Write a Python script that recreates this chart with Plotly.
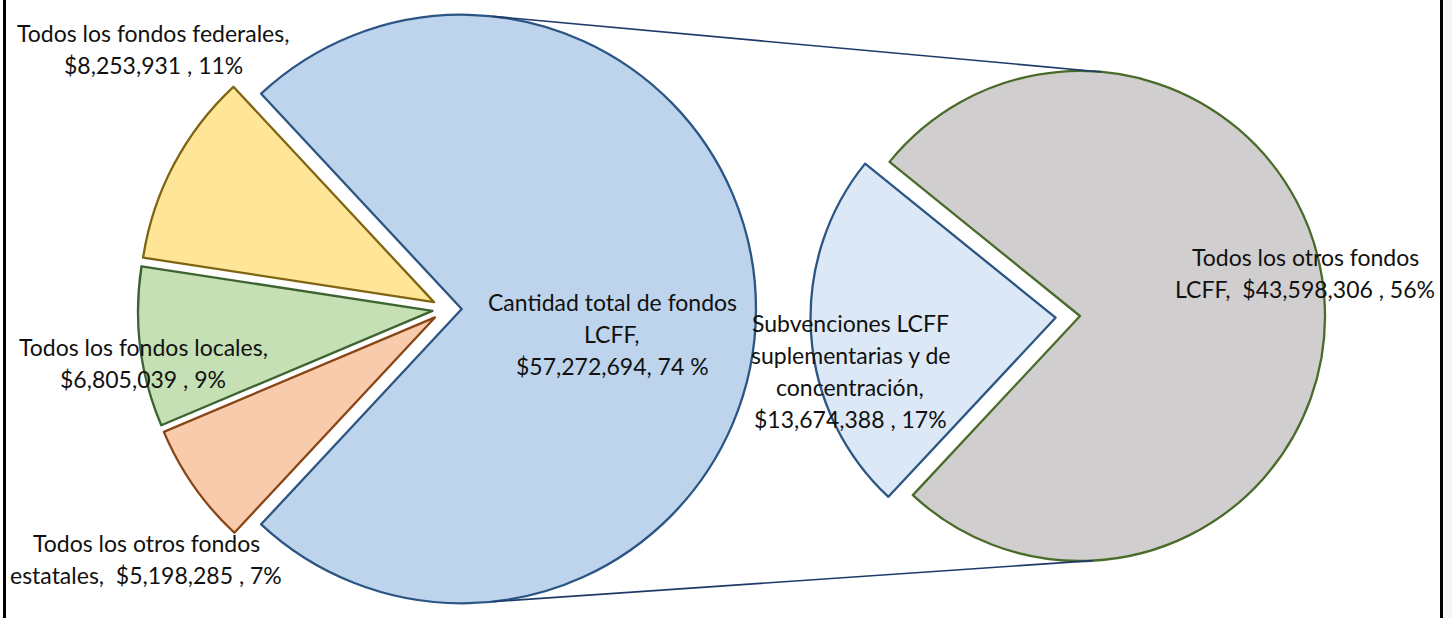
import plotly.graph_objects as go
import math

# ---------------- data ----------------
main_labels = ["Cantidad total de fondos LCFF", "Todos los otros fondos estatales",
               "Todos los fondos locales", "Todos los fondos federales"]
main_values = [57272694, 5198285, 6805039, 8253931]
main_pct = ["74 %", "7%", "9%", "11%"]

sub_labels = ["Subvenciones LCFF suplementarias y de concentración", "Todos los otros fondos LCFF"]
sub_values = [13674388, 43598306]
sub_pct = ["17%", "56%"]

# ---------------- style / geometry ----------------
W, H = 1452, 618
FONT = "Lato"
FS = 23
LINE_GAP = 32

main_fill = ["#BDD4EC", "#F8CBAD", "#C5E0B4", "#FFE598"]
main_edge = ["#2B5683", "#8A4514", "#3D6430", "#7F6512"]
sub_fill = ["#DCE8F5", "#D0CECF"]
sub_edge = ["#2B5683", "#4A6B2A"]

main_pull = [0.05, 0.05, 0.05, 0.05]
sub_pull = [0.10, 0.0]

# left pie box (pixels)
L_cx, L_cy, L_box = 447, 309, 618
# right pie box (pixels)
R_cx, R_cy, R_box = 1080, 316, 539


def dom_x(cx, box):
    return [(cx - box / 2) / W, (cx + box / 2) / W]


def dom_y(cy, box):
    return [1 - (cy + box / 2) / H, 1 - (cy - box / 2) / H]


main_total = sum(main_values)
blue_deg = 360 * main_values[0] / main_total
main_rotation = 90 - blue_deg / 2

sub_total = sum(sub_values)
lb_deg = 360 * sub_values[0] / sub_total
sub_rotation = 266 - lb_deg / 2

fig = go.Figure()
fig.add_trace(go.Pie(
    labels=main_labels, values=main_values, sort=False, direction="clockwise",
    rotation=main_rotation, pull=main_pull, textinfo="none", hoverinfo="label+value",
    marker=dict(colors=main_fill, line=dict(color=main_edge, width=2.3)),
    domain=dict(x=dom_x(L_cx, L_box), y=[0, 1]), showlegend=False,
))
fig.add_trace(go.Pie(
    labels=sub_labels, values=sub_values, sort=False, direction="clockwise",
    rotation=sub_rotation, pull=sub_pull, textinfo="none", hoverinfo="label+value",
    marker=dict(colors=sub_fill, line=dict(color=sub_edge, width=2.3)),
    domain=dict(x=dom_x(R_cx, R_box), y=dom_y(R_cy, R_box)), showlegend=False,
))

# ---- connector lines (computed from pie geometry) ----
rL = L_box / (2 + 2 * max(main_pull))
blue_cx = L_cx + main_pull[0] * rL
rR = R_box / (2 + 2 * max(sub_pull))


def pt(cx, cy, r, ang):
    a = math.radians(ang)
    return (cx + r * math.cos(a)) / W, 1 - (cy - r * math.sin(a)) / H


shapes = []
for la, ra in [(84, 85), (-84, -87)]:
    x0, y0 = pt(blue_cx, L_cy, rL, la)
    x1, y1 = pt(R_cx, R_cy, rR, ra)
    shapes.append(dict(type="line", xref="paper", yref="paper", x0=x0, y0=y0, x1=x1, y1=y1,
                       line=dict(color="#1F3A68", width=1.6)))

# frame lines
shapes.append(dict(type="rect", xref="paper", yref="paper", x0=1444 / W, x1=1, y0=0, y1=1,
                   fillcolor="#F6F6F6", line=dict(width=0), layer="below"))
for xp in (4.5, 1441.5):
    shapes.append(dict(type="line", xref="paper", yref="paper", x0=xp / W, x1=xp / W, y0=0, y1=1,
                       line=dict(color="#000000", width=3)))


def money(v):
    return f"${v:,}"


label_blocks = [
    # (lines, center x px, first line y px)
    (["Todos los fondos federales,", f"{money(main_values[3])} , {main_pct[3]}"], 153, 33),
    (["Todos los fondos locales,", f"{money(main_values[2])} , {main_pct[2]}"], 143, 347),
    (["Todos los otros fondos", f"estatales,  {money(main_values[1])} , {main_pct[1]}"], 146, 543),
    (["Cantidad total de fondos", "LCFF,", f"{money(main_values[0])}, {main_pct[0]}"], 612, 302),
    (["Subvenciones LCFF", "suplementarias y de", "concentración,", f"{money(sub_values[0])} , {sub_pct[0]}"], 850, 323),
    (["Todos los otros fondos", f"LCFF,  {money(sub_values[1])} , {sub_pct[1]}"], 1305, 257),
]

annotations = []
for lines, cx, y0 in label_blocks:
    for i, line in enumerate(lines):
        annotations.append(dict(
            x=cx / W, y=1 - (y0 + i * LINE_GAP) / H, xref="paper", yref="paper",
            text=line, showarrow=False, xanchor="center", yanchor="middle",
            font=dict(family=FONT, size=FS, color="#111111"),
        ))

fig.update_layout(
    width=W, height=H, margin=dict(l=0, r=0, t=0, b=0),
    paper_bgcolor="white", plot_bgcolor="white",
    shapes=shapes, annotations=annotations, showlegend=False,
)

fig.write_html(
    "out.html",
    config={"displayModeBar": False},
    post_script="document.body.style.margin='0';document.body.style.overflow='hidden';",
)
